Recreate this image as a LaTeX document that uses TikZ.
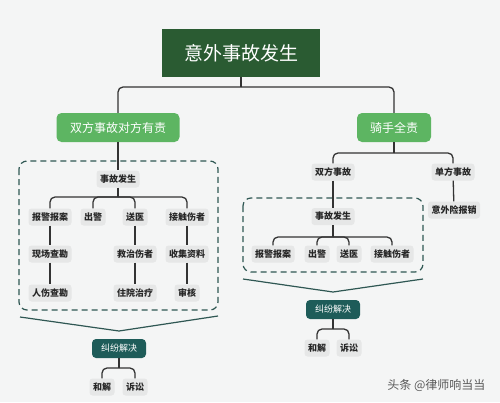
\documentclass[tikz,border=0pt]{standalone}
\usepackage{fontspec}
\setmainfont{Noto Sans CJK SC}
\begin{document}
\begin{tikzpicture}[x=1pt,y=-1pt,
  conn/.style={draw=black!80,line width=1.3pt},
  fork/.style={conn,rounded corners=5pt},
  gbox/.style={fill=gnode,rounded corners=3pt,inner xsep=3.5pt,inner ysep=0pt,minimum height=17pt,font=\fontsize{9}{10}\selectfont\bfseries,text=black!85},
  greenbox/.style={fill=lgreen,rounded corners=5pt,minimum width=123pt,minimum height=29pt,font=\fontsize{12}{14}\selectfont,text=white},
  tealbox/.style={fill=teal1,rounded corners=4pt,minimum width=54pt,minimum height=19pt,font=\fontsize{9}{10}\selectfont,text=white},
  dashbox/.style={draw=teal2,line width=1.2pt,dash pattern=on 6pt off 4pt,rounded corners=8pt},
  vline/.style={draw=teal2,line width=1.2pt}
]
\definecolor{bg}{HTML}{F4F5F5}
\definecolor{dgreen}{HTML}{2A5B32}
\definecolor{lgreen}{HTML}{5DB562}
\definecolor{teal1}{HTML}{1E5C59}
\definecolor{teal2}{HTML}{2F5753}
\definecolor{gnode}{HTML}{E6E7E7}
\fill[bg] (0,0) rectangle (500,402);
\useasboundingbox (0,0) rectangle (500,402);

% title
\node[fill=dgreen,minimum width=158pt,minimum height=48pt,font=\fontsize{19}{22}\selectfont,text=white] (title) at (241,53) {意外事故发生};
\node[greenbox] (L) at (118,127.5) {双方事故对方有责};
\node[greenbox,minimum width=74pt] (R) at (394,127.5) {骑手全责};
\coordinate (tb) at (241,87);
\draw[conn] (title.south) -- (tb);
\draw[fork] (tb) -| (L.north);
\draw[fork] (tb) -| (R.north);

% left dashed box
\draw[dashbox] (19,161) rectangle (218,310);
\node[gbox] (Lacc) at (118,179) {事故发生};
\draw[conn] (L.south) -- (Lacc.north);
\node[gbox] (La1) at (50,217) {报警报案};
\node[gbox] (La2) at (93,217) {出警};
\node[gbox] (La3) at (135,217) {送医};
\node[gbox] (La4) at (187,217) {接触伤者};
\coordinate (Lb) at (118,197);
\draw[conn] (Lacc.south) -- (Lb);
\foreach \c in {La1,La2,La3,La4} \draw[fork] (Lb) -| (\c.north);
\node[gbox] (Lb1) at (50,254) {现场查勘};
\node[gbox] (Lb3) at (135,254) {救治伤者};
\node[gbox] (Lb4) at (187,254) {收集资料};
\node[gbox] (Lc1) at (50,293) {人伤查勘};
\node[gbox] (Lc3) at (135,293) {住院治疗};
\node[gbox] (Lc4) at (187,293) {审核};
\draw[conn] (La1) -- (Lb1);
\draw[conn] (Lb1) -- (Lc1);
\draw[conn] (La3) -- (Lb3);
\draw[conn] (Lb3) -- (Lc3);
\draw[conn] (La4) -- (Lb4);
\draw[conn] (Lb4) -- (Lc4);

% left resolution
\coordinate (Lv1) at (20,317);
\coordinate (Lv2) at (119,331);
\coordinate (Lv3) at (218,316);
\draw[vline] (Lv1) -- (Lv2) -- (Lv3);
\node[tealbox] (Lres) at (119,348.5) {纠纷解决};
\node[gbox] (Lh) at (102,387) {和解};
\node[gbox] (Ls) at (135,387) {诉讼};
\coordinate (Lrb) at (119,368);
\draw[conn] (Lres.south) -- (Lrb);
\draw[fork] (Lrb) -| (Lh.north);
\draw[fork] (Lrb) -| (Ls.north);

% right side
\node[gbox] (Rd) at (333,172) {双方事故};
\node[gbox] (Rs) at (453,172) {单方事故};
\coordinate (Rtb) at (394,153);
\draw[conn] (R.south) -- (Rtb);
\draw[fork] (Rtb) -| (Rd.north);
\draw[fork] (Rtb) -| (Rs.north);
\node[gbox] (Rins) at (454,210) {意外险报销};
\draw[conn] (Rs) -- (Rins);

\draw[dashbox] (243,198) rectangle (423,272);
\node[gbox] (Racc) at (333,216.5) {事故发生};
\draw[conn] (Rd) -- (Racc);
\node[gbox] (Ra1) at (273,254) {报警报案};
\node[gbox] (Ra2) at (317,254) {出警};
\node[gbox] (Ra3) at (349,254) {送医};
\node[gbox] (Ra4) at (392,254) {接触伤者};
\coordinate (Rb) at (333,237);
\draw[conn] (Racc.south) -- (Rb);
\foreach \c in {Ra1,Ra2,Ra3,Ra4} \draw[fork] (Rb) -| (\c.north);

\coordinate (Rv1) at (243,279);
\coordinate (Rv2) at (333,292);
\coordinate (Rv3) at (423,279);
\draw[vline] (Rv1) -- (Rv2) -- (Rv3);
\node[tealbox] (Rres) at (333,309.5) {纠纷解决};
\node[gbox] (Rh) at (317,348) {和解};
\node[gbox] (Rsu) at (349,348) {诉讼};
\coordinate (Rrb) at (333,329);
\draw[conn] (Rres.south) -- (Rrb);
\draw[fork] (Rrb) -| (Rh.north);
\draw[fork] (Rrb) -| (Rsu.north);

% watermark
\node[font=\fontsize{12}{14}\selectfont,text=black!65,anchor=east] (wm) at (489,385) {头条 @律师响当当};
\end{tikzpicture}
\end{document}
